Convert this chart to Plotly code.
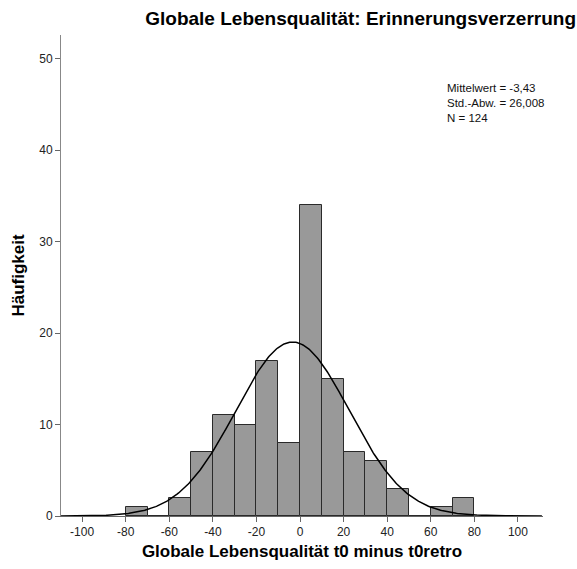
import numpy as np
import plotly.graph_objects as go

# Histogram counts (bin width 10, from -80 to 80)
bin_left = [-80, -70, -60, -50, -40, -30, -20, -10, 0, 10, 20, 30, 40, 50, 60, 70]
counts = [1, 0, 2, 7, 11, 10, 17, 8, 34, 15, 7, 6, 3, 0, 1, 2]
bin_width = 10

# Summary statistics
mean = -3.43
std = 26.008
n = 124
stats_lines = ["Mittelwert = -3,43", "Std.-Abw. = 26,008", "N = 124"]

x_ticks = [-100, -80, -60, -40, -20, 0, 20, 40, 60, 80, 100]
y_ticks = [0, 10, 20, 30, 40, 50]

font_family = "Arial, Liberation Sans, sans-serif"

centers = [b + bin_width / 2 for b in bin_left]

fig = go.Figure()
fig.add_trace(go.Bar(
    x=centers, y=counts, width=bin_width,
    marker=dict(color="rgb(153,153,153)", line=dict(color="#2a2a2a", width=1)),
    hoverinfo="x+y", showlegend=False,
))

# Fitted normal curve scaled to counts
xs = np.linspace(-110, 111, 400)
ys = n * bin_width * np.exp(-0.5 * ((xs - mean) / std) ** 2) / (std * np.sqrt(2 * np.pi))
fig.add_trace(go.Scatter(
    x=xs, y=ys, mode="lines", line=dict(color="black", width=1.5),
    hoverinfo="skip", showlegend=False,
))

fig.update_layout(
    width=577, height=569,
    margin=dict(l=61, r=34, t=35, b=53),
    plot_bgcolor="white", paper_bgcolor="white",
    font=dict(family=font_family, size=12, color="#222"),
    bargap=0,
    title=dict(
        text="<b>Globale Lebensqualität: Erinnerungsverzerrung</b>",
        x=0.625, xanchor="center", y=0.968, yanchor="middle",
        font=dict(size=19, color="black", family=font_family),
    ),
    xaxis=dict(
        range=[-109.7, 111.5], tickvals=x_ticks, ticktext=[str(v) for v in x_ticks],
        showgrid=False, zeroline=False, showline=True, linecolor="#666", linewidth=1,
        ticks="outside", ticklen=5, tickcolor="#666",
        title=dict(text="<b>Globale Lebensqualität t0 minus t0retro</b>",
                   font=dict(size=17, color="black"), standoff=6),
    ),
    yaxis=dict(
        range=[0, 52.6], tickvals=y_ticks, ticktext=[str(v) for v in y_ticks],
        showgrid=False, zeroline=False, showline=True, linecolor="#888", linewidth=1,
        ticks="outside", ticklen=5, tickcolor="#666",
        title=dict(text="<b>Häufigkeit</b>", font=dict(size=17, color="black"), standoff=10),
    ),
    annotations=[dict(
        text="<br>".join(stats_lines),
        xref="paper", yref="paper", x=0.797, y=0.8586,
        xanchor="left", yanchor="middle", align="left", showarrow=False,
        font=dict(size=11.5, color="#111", family=font_family),
    )],
)

fig.write_html("out.html")
